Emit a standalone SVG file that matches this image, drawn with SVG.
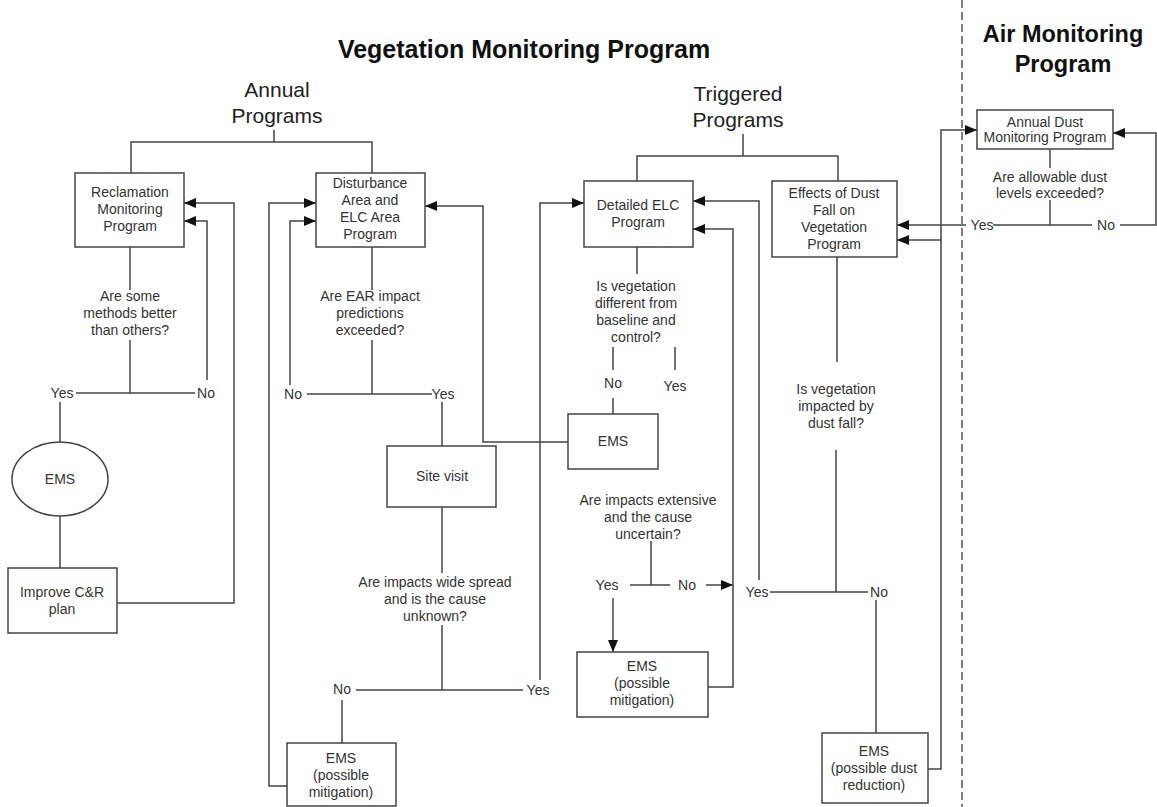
<svg xmlns="http://www.w3.org/2000/svg" width="1157" height="807" viewBox="0 0 1157 807">
<defs>
<marker id="ah" markerUnits="userSpaceOnUse" markerWidth="13" markerHeight="10" refX="12" refY="5" orient="auto">
<path d="M0,0 L12,5 L0,10 Z" fill="#111"/>
</marker>
<style>
.box{fill:#fff;stroke:#444;stroke-width:1.5}
.ln{fill:none;stroke:#444;stroke-width:1.5}
.ar{fill:none;stroke:#444;stroke-width:1.5;marker-end:url(#ah)}
.t{font-family:"Liberation Sans",Arial,sans-serif;font-size:14px;fill:#333;text-anchor:middle}
.h{font-family:"Liberation Sans",Arial,sans-serif;font-size:21px;fill:#222;text-anchor:middle}
.b{font-family:"Liberation Sans",Arial,sans-serif;font-weight:bold;fill:#111;text-anchor:middle}
</style>
</defs>
<rect width="1157" height="807" fill="#fff"/>
<g id="titles">
<text class="b" x="524" y="58" font-size="25">Vegetation Monitoring Program</text>
<text class="b" x="1063" y="42" font-size="23.5">Air Monitoring</text>
<text class="b" x="1063" y="72" font-size="23.5">Program</text>
<text class="h" x="277" y="97">Annual</text>
<text class="h" x="277" y="123">Programs</text>
<text class="h" x="738" y="101">Triggered</text>
<text class="h" x="738" y="127">Programs</text>
</g>
<g id="connectors">
<path class="ln" d="M962,0 V807" stroke-dasharray="8,4" style="stroke:#555"/>
<path class="ln" d="M274,130 V142 M131,173 V142 H372 V173"/>
<path class="ln" d="M130,247 V290 M130,340 V393 M76,393 H195"/>
<path class="ar" d="M207,380 V221 H184"/>
<path class="ln" d="M60,402 V442 M60,516 V568"/>
<path class="ar" d="M117,603 H234 V203 H184"/>
<path class="ln" d="M372,247 V290 M372,340 V394 M307,394 H432"/>
<path class="ar" d="M290,385 V221 H316"/>
<path class="ln" d="M442,402 V446 M442,507 V573 M442,625 V690 M356,690 H523 M342,700 V743"/>
<path class="ar" d="M287,786 H269 V203 H316"/>
<path class="ar" d="M540,680 V203 H584"/>
<path class="ar" d="M568,442 H483 V206 H425"/>
<path class="ln" d="M743,134 V156 M637,181 V156 H838 V181"/>
<path class="ln" d="M637,247 V274 M613,347 V370 M675,347 V370 M613,398 V414"/>
<path class="ln" d="M651,541 V585 M630,585 H670"/>
<path class="ar" d="M613,598 V652"/>
<path class="ar" d="M706,585 H733"/>
<path class="ar" d="M708,687 H733 V229 H693"/>
<path class="ln" d="M837,257 V362 M836,450 V592 M770,592 H868 M876,600 V733"/>
<path class="ar" d="M759,580 V201 H693"/>
<path class="ar" d="M928,769 H941 V130 H977"/>
<path class="ar" d="M941,240 H897"/>
<path class="ar" d="M966,225 H897"/>
<path class="ln" d="M1050,149 V168 M1050,200 V225 M993,225 H1092"/>
<path class="ar" d="M1120,225 H1156 V133 H1113"/>
</g>
<g id="labels">
<text class="t" x="62" y="398">Yes</text>
<text class="t" x="206" y="398">No</text>
<text class="t" x="293" y="399">No</text>
<text class="t" x="443" y="399">Yes</text>
<text class="t" x="342" y="694">No</text>
<text class="t" x="538" y="695">Yes</text>
<text class="t" x="613" y="388">No</text>
<text class="t" x="675" y="391">Yes</text>
<text class="t" x="607" y="590">Yes</text>
<text class="t" x="687" y="590">No</text>
<text class="t" x="757" y="597">Yes</text>
<text class="t" x="879" y="597">No</text>
<text class="t" x="982" y="230">Yes</text>
<text class="t" x="1106" y="230">No</text>
</g>
<g id="q-methods"><text class="t" x="130" y="301">Are some</text><text class="t" x="130" y="318">methods better</text><text class="t" x="130" y="335">than others?</text></g>
<g id="q-ear"><text class="t" x="370" y="301">Are EAR impact</text><text class="t" x="370" y="318">predictions</text><text class="t" x="370" y="335">exceeded?</text></g>
<g id="q-widespread"><text class="t" x="435" y="587">Are impacts wide spread</text><text class="t" x="435" y="604">and is the cause</text><text class="t" x="435" y="621">unknown?</text></g>
<g id="q-different"><text class="t" x="636" y="291">Is vegetation</text><text class="t" x="636" y="308">different from</text><text class="t" x="636" y="325">baseline and</text><text class="t" x="636" y="342">control?</text></g>
<g id="q-extensive"><text class="t" x="648" y="505">Are impacts extensive</text><text class="t" x="648" y="522">and the cause</text><text class="t" x="648" y="539">uncertain?</text></g>
<g id="q-dustfall"><text class="t" x="836" y="394">Is vegetation</text><text class="t" x="836" y="411">impacted by</text><text class="t" x="836" y="428">dust fall?</text></g>
<g id="q-allowable"><text class="t" x="1050" y="182">Are allowable dust</text><text class="t" x="1050" y="198">levels exceeded?</text></g>
<g id="reclamation"><rect class="box" x="75" y="173" width="109" height="74"/><text class="t" x="130" y="197">Reclamation</text><text class="t" x="130" y="214">Monitoring</text><text class="t" x="130" y="231">Program</text></g>
<g id="disturbance"><rect class="box" x="316" y="173" width="109" height="74"/><text class="t" x="370" y="188">Disturbance</text><text class="t" x="370" y="205">Area and</text><text class="t" x="370" y="222">ELC Area</text><text class="t" x="370" y="239">Program</text></g>
<g id="ems-ellipse"><ellipse class="box" cx="60" cy="479" rx="48" ry="37"/><text class="t" x="60" y="484">EMS</text></g>
<g id="improve"><rect class="box" x="8" y="568" width="109" height="65"/><text class="t" x="62" y="597">Improve C&amp;R</text><text class="t" x="62" y="614">plan</text></g>
<g id="site-visit"><rect class="box" x="387" y="446" width="109" height="61"/><text class="t" x="442" y="481">Site visit</text></g>
<g id="ems-mitigation-1"><rect class="box" x="287" y="743" width="109" height="63"/><text class="t" x="341" y="763">EMS</text><text class="t" x="341" y="780">(possible</text><text class="t" x="341" y="797">mitigation)</text></g>
<g id="detailed-elc"><rect class="box" x="584" y="181" width="109" height="66"/><text class="t" x="638" y="210">Detailed ELC</text><text class="t" x="638" y="227">Program</text></g>
<g id="effects"><rect class="box" x="772" y="181" width="125" height="76"/><text class="t" x="834" y="198">Effects of Dust</text><text class="t" x="834" y="215">Fall on</text><text class="t" x="834" y="232">Vegetation</text><text class="t" x="834" y="249">Program</text></g>
<g id="ems-middle"><rect class="box" x="568" y="414" width="90" height="55"/><text class="t" x="613" y="446">EMS</text></g>
<g id="ems-mitigation-2"><rect class="box" x="577" y="652" width="131" height="65"/><text class="t" x="642" y="671">EMS</text><text class="t" x="642" y="688">(possible</text><text class="t" x="642" y="705">mitigation)</text></g>
<g id="ems-dust"><rect class="box" x="822" y="733" width="106" height="70"/><text class="t" x="874" y="756">EMS</text><text class="t" x="874" y="773">(possible dust</text><text class="t" x="874" y="790">reduction)</text></g>
<g id="annual-dust"><rect class="box" x="977" y="110" width="136" height="39"/><text class="t" x="1045" y="127">Annual Dust</text><text class="t" x="1045" y="142">Monitoring Program</text></g>
</svg>
